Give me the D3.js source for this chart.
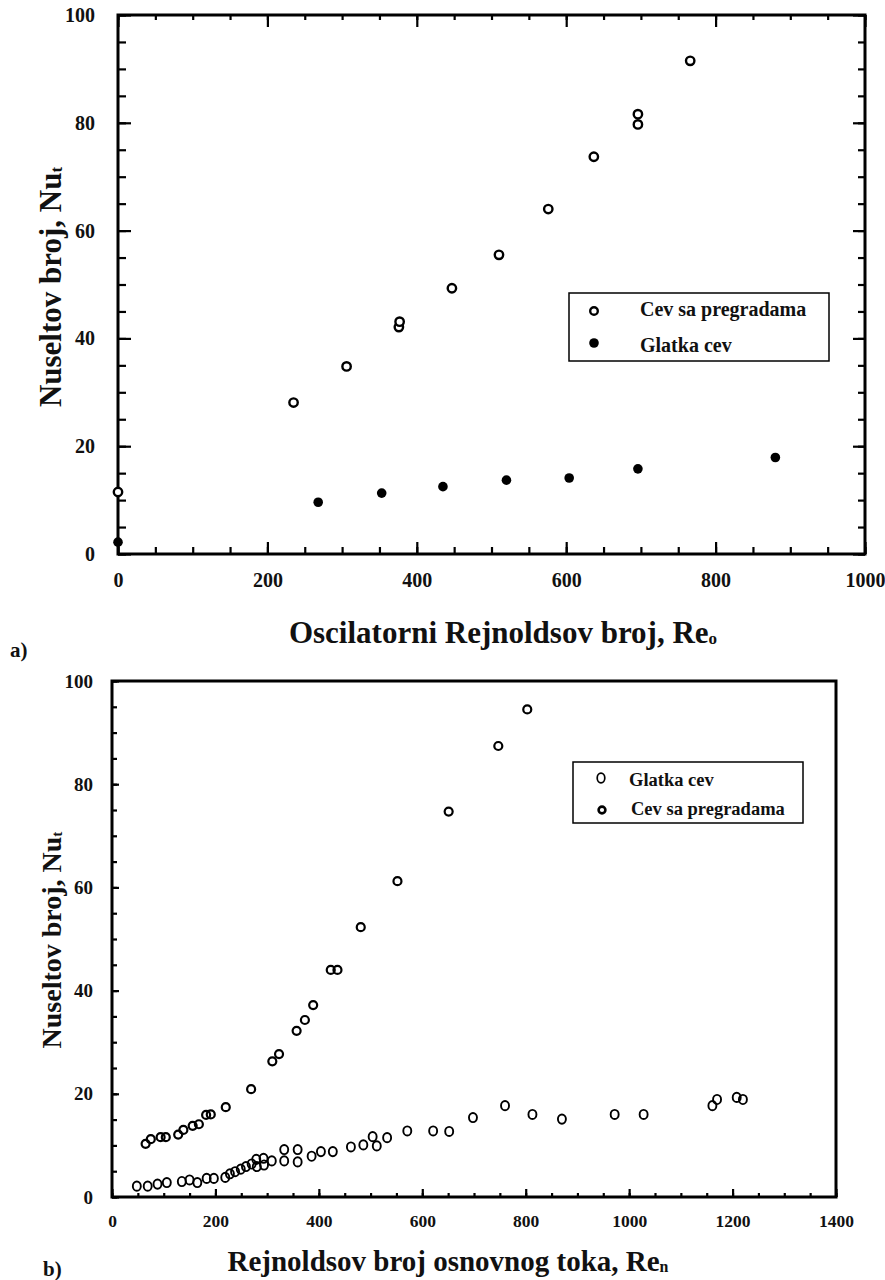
<!DOCTYPE html>
<html>
<head>
<meta charset="utf-8">
<script src="https://cdn.jsdelivr.net/npm/d3@7"></script>
<style>
  body { margin: 0; background: #fff; }
  svg text { font-family: 'Liberation Serif', 'Times New Roman', serif; font-weight: bold; fill: #111; }
</style>
</head>
<body>
<svg id="fig" width="885" height="1280"></svg>
<script>
// a) Nu_t prema oscilatornom Re
let aPregradama = [[0, 11.5], [235, 28.1], [306, 34.8], [376, 42.1], [377, 43.1], [447, 49.3], [510, 55.5], [576, 64.0], [637, 73.7], [696, 79.7], [696, 81.6], [766, 91.5]]
let aGlatka = [[0, 2.2], [268, 9.6], [353, 11.3], [435, 12.5], [520, 13.7], [604, 14.1], [696, 15.8], [880, 17.9]]
let aXTicks = [0, 200, 400, 600, 800, 1000]
let aYTicks = [0, 20, 40, 60, 80, 100]
let aLegend = ['Cev sa pregradama', 'Glatka cev']

// b) Nu_t prema Re osnovnog toka
let bGlatka = [[48, 2.1], [69, 2.1], [88, 2.5], [106, 2.8], [135, 3.0], [150, 3.3], [165, 2.8], [183, 3.6], [197, 3.6], [219, 3.8], [228, 4.5], [238, 4.9], [249, 5.4], [259, 5.9], [270, 6.4], [280, 5.9], [279, 7.3], [293, 7.5], [294, 6.2], [309, 7.0], [333, 7.0], [333, 9.2], [359, 6.8], [359, 9.2], [386, 7.9], [404, 8.8], [427, 8.8], [462, 9.7], [486, 10.1], [504, 11.7], [512, 9.9], [532, 11.5], [571, 12.8], [621, 12.8], [652, 12.7], [698, 15.4], [760, 17.7], [813, 16.0], [870, 15.1], [972, 16.0], [1028, 16.0], [1161, 17.7], [1170, 18.9], [1208, 19.3], [1220, 18.9]]
let bPregradama = [[65, 10.3], [75, 11.2], [94, 11.6], [104, 11.6], [128, 12.1], [138, 13.0], [156, 13.8], [168, 14.1], [182, 15.9], [191, 16.0], [220, 17.4], [269, 20.9], [310, 26.3], [323, 27.7], [357, 32.2], [373, 34.3], [389, 37.2], [423, 44.0], [436, 44.0], [481, 52.3], [552, 61.2], [651, 74.7], [747, 87.4], [803, 94.5]]
let bXTicks = [0, 200, 400, 600, 800, 1000, 1200, 1400]
let bYTicks = [0, 20, 40, 60, 80, 100]
let bLegend = ['Glatka cev', 'Cev sa pregradama']

let svg = d3.select('#fig')

function axisTicks (g, axis, values, size, pad, fontSize, labels) {
  axis.tickValues(values).tickSize(size).tickPadding(pad)
  axis.tickFormat(labels ? d3.format('d') : '')
  g.call(axis)
  g.attr('font-size', fontSize).attr('font-family', null)
  g.select('.domain').remove()
  g.selectAll('line').attr('stroke', '#000').attr('stroke-width', 2.2)
}

function yTitle (x, y, size, sub) {
  let t = svg.append('text')
    .attr('transform', `translate(${x},${y}) rotate(-90)`)
    .attr('text-anchor', 'middle')
    .attr('font-size', size)
  t.append('tspan').text('Nuseltov broj, Nu')
  t.append('tspan').attr('font-size', size * 0.55).attr('dy', 1).text(sub)
}

function xTitle (x, y, size, main, sub) {
  let t = svg.append('text')
    .attr('x', x).attr('y', y)
    .attr('text-anchor', 'middle')
    .attr('font-size', size)
  t.append('tspan').text(main)
  t.append('tspan').attr('font-size', size * 0.55).attr('dy', 1).text(sub)
}

// ---------- a) ----------
let ax = d3.scaleLinear().domain([0, 1000]).range([118, 865])
let ay = d3.scaleLinear().domain([0, 100]).range([554, 15])
let aMinorX = d3.range(0, 1001, 50)
let aMinorY = d3.range(0, 101, 5)

let ga = svg.append('g')
axisTicks(ga.append('g').attr('transform', `translate(0,${ay(0)})`), d3.axisBottom(ax), aMinorX, -7, 0, 0, false)
axisTicks(ga.append('g').attr('transform', `translate(0,${ay(0)})`), d3.axisBottom(ax), aXTicks, -12, 19, 20, true)
axisTicks(ga.append('g').attr('transform', `translate(0,${ay(100)})`), d3.axisTop(ax), aMinorX, -5, 0, 0, false)
axisTicks(ga.append('g').attr('transform', `translate(0,${ay(100)})`), d3.axisTop(ax), aXTicks, -12, 0, 0, false)
axisTicks(ga.append('g').attr('transform', `translate(${ax(0)},0)`), d3.axisLeft(ay), aMinorY, -8, 0, 0, false)
axisTicks(ga.append('g').attr('transform', `translate(${ax(0)},0)`), d3.axisLeft(ay), aYTicks, -13, 23, 20, true)
axisTicks(ga.append('g').attr('transform', `translate(${ax(1000)},0)`), d3.axisRight(ay), aMinorY, -7, 0, 0, false)
axisTicks(ga.append('g').attr('transform', `translate(${ax(1000)},0)`), d3.axisRight(ay), aYTicks, -12, 0, 0, false)

ga.append('rect')
  .attr('x', ax(0)).attr('y', ay(100))
  .attr('width', ax(1000) - ax(0)).attr('height', ay(0) - ay(100))
  .attr('fill', 'none').attr('stroke', '#000').attr('stroke-width', 3)

ga.selectAll('.open').data(aPregradama).enter().append('circle')
  .attr('cx', d => ax(d[0])).attr('cy', d => ay(d[1])).attr('r', 4.2)
  .attr('fill', '#fff').attr('stroke', '#000').attr('stroke-width', 2.4)
ga.selectAll('.full').data(aGlatka).enter().append('circle')
  .attr('cx', d => ax(d[0])).attr('cy', d => ay(d[1])).attr('r', 4.8)
  .attr('fill', '#000')

// legenda a)
ga.append('rect').attr('x', 569).attr('y', 293).attr('width', 260).attr('height', 68)
  .attr('fill', '#fff').attr('stroke', '#000').attr('stroke-width', 1.5)
ga.append('circle').attr('cx', 594).attr('cy', 311).attr('r', 3.8)
  .attr('fill', '#fff').attr('stroke', '#000').attr('stroke-width', 2.4)
ga.append('circle').attr('cx', 594).attr('cy', 343).attr('r', 4.8).attr('fill', '#000')
ga.selectAll('.leg').data(aLegend).enter().append('text')
  .attr('x', 640).attr('y', (d, i) => 316 + i * 36)
  .attr('font-size', 20)
  .text(d => d)

yTitle(61, 287, 31, 't')
xTitle(503, 643, 31, 'Oscilatorni Rejnoldsov broj, Re', 'o')
svg.append('text').attr('x', 10).attr('y', 657).attr('font-size', 21).text('a)')

// ---------- b) ----------
let bx = d3.scaleLinear().domain([0, 1400]).range([112, 836])
let by = d3.scaleLinear().domain([0, 100]).range([1197, 681])

let gb = svg.append('g')
axisTicks(gb.append('g').attr('transform', `translate(0,${by(0)})`), d3.axisBottom(bx), d3.range(0, 1401, 50), -4, 0, 0, false)
axisTicks(gb.append('g').attr('transform', `translate(0,${by(0)})`), d3.axisBottom(bx), bXTicks, -8, 18, 17.5, true)
axisTicks(gb.append('g').attr('transform', `translate(${bx(0)},0)`), d3.axisLeft(by), d3.range(0, 101, 5), -5, 0, 0, false)
axisTicks(gb.append('g').attr('transform', `translate(${bx(0)},0)`), d3.axisLeft(by), bYTicks, -7, 19, 19, true)

gb.append('rect')
  .attr('x', bx(0)).attr('y', by(100))
  .attr('width', bx(1400) - bx(0)).attr('height', by(0) - by(100))
  .attr('fill', 'none').attr('stroke', '#000').attr('stroke-width', 3)

gb.selectAll('.gl').data(bGlatka).enter().append('ellipse')
  .attr('cx', d => bx(d[0])).attr('cy', d => by(d[1])).attr('rx', 4).attr('ry', 4.6)
  .attr('fill', 'none').attr('stroke', '#000').attr('stroke-width', 1.9)
gb.selectAll('.pr').data(bPregradama).enter().append('circle')
  .attr('cx', d => bx(d[0])).attr('cy', d => by(d[1])).attr('r', 4)
  .attr('fill', 'none').attr('stroke', '#000').attr('stroke-width', 2.2)

// legenda b)
gb.append('rect').attr('x', 573).attr('y', 762).attr('width', 230).attr('height', 61)
  .attr('fill', '#fff').attr('stroke', '#000').attr('stroke-width', 1.5)
gb.append('ellipse').attr('cx', 601).attr('cy', 778).attr('rx', 3.8).attr('ry', 4.8)
  .attr('fill', 'none').attr('stroke', '#000').attr('stroke-width', 1.7)
gb.append('circle').attr('cx', 602).attr('cy', 810).attr('r', 3.4)
  .attr('fill', 'none').attr('stroke', '#000').attr('stroke-width', 2.6)
gb.selectAll('.leg').data(bLegend).enter().append('text')
  .attr('x', (d, i) => 629 + i * 2).attr('y', (d, i) => 786 + i * 29)
  .attr('font-size', 18.5)
  .text(d => d)

yTitle(61, 940, 28, 't')
xTitle(448, 1271, 29, 'Rejnoldsov broj osnovnog toka, Re', 'n')
svg.append('text').attr('x', 43).attr('y', 1276).attr('font-size', 21).text('b)')
</script>
</body>
</html>
